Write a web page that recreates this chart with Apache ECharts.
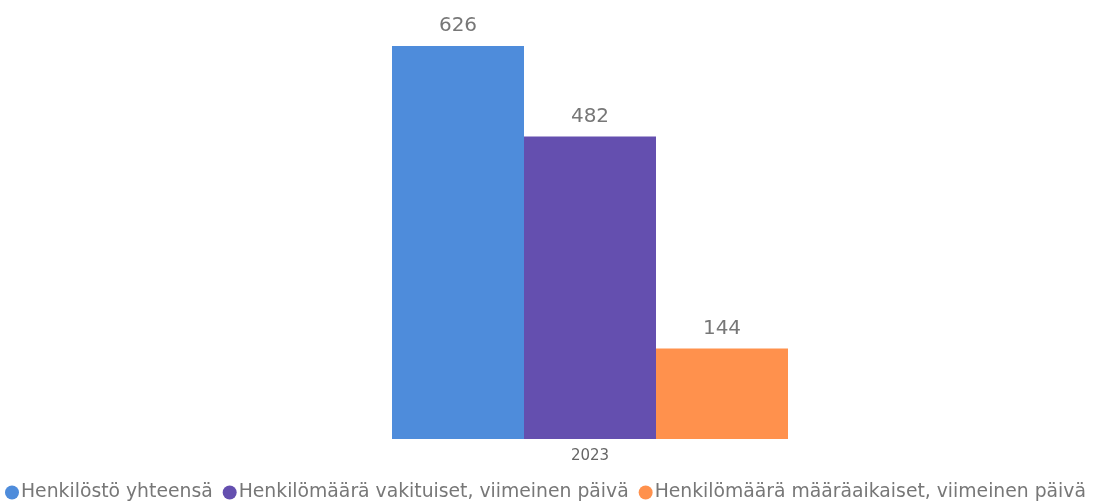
<!DOCTYPE html>
<html>
<head>
<meta charset="utf-8">
<script src="https://cdn.jsdelivr.net/npm/echarts@6/dist/echarts.min.js"></script>
<style>
html,body{margin:0;padding:0;background:#fff;}
#chart{width:1099px;height:503px;}
</style>
</head>
<body>
<div id="chart"></div>
<script>
var categories = ['2023'];
var seriesNames = ['Henkilöstö yhteensä', 'Henkilömäärä vakituiset, viimeinen päivä', 'Henkilömäärä määräaikaiset, viimeinen päivä'];
var total = [626];
var permanent = [482];
var fixedTerm = [144];
var colors = ['#4e8cdb', '#644faf', '#ff914d'];

var chart = echarts.init(document.getElementById('chart'));
var font = '"DejaVu Sans", sans-serif';

function bar(name, data, color) {
	return {
		name: name,
		type: 'bar',
		data: data,
		barWidth: 132,
		barGap: '0%',
		itemStyle: {color: color},
		label: {
			show: true,
			position: 'top',
			distance: 10,
			color: '#777',
			fontSize: 20,
			fontFamily: font
		}
	};
}

chart.setOption({
	animation: false,
	color: colors,
	grid: {left: 180, right: 99, top: 31, bottom: 64},
	xAxis: {
		type: 'category',
		data: categories,
		axisLine: {show: false},
		axisTick: {show: false},
		axisLabel: {color: '#666', fontSize: 15, fontFamily: font, margin: 10}
	},
	yAxis: {
		type: 'value',
		min: 0,
		max: 650,
		show: false
	},
	legend: {
		top: 478,
		left: 0,
		padding: [5, 2, 5, 5],
		icon: 'circle',
		itemWidth: 14,
		itemHeight: 14,
		itemGap: 10,
		textStyle: {color: '#777', fontSize: 18.8, fontFamily: font, padding: [0, 0, 0, -3]}
	},
	series: [
		bar(seriesNames[0], total, colors[0]),
		bar(seriesNames[1], permanent, colors[1]),
		bar(seriesNames[2], fixedTerm, colors[2])
	]
});
</script>
</body>
</html>
